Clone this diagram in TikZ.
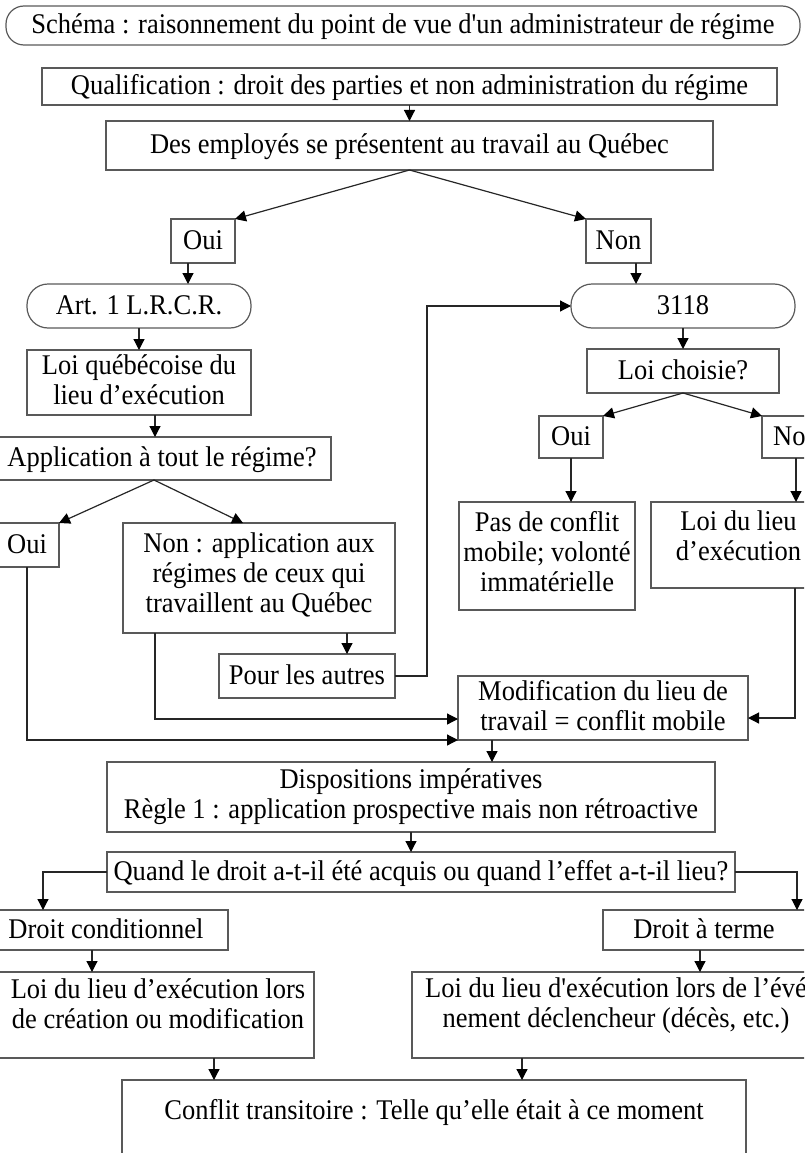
\documentclass[tikz,border=0pt]{standalone}
\usepackage{fontspec}
\newfontfamily\mainf{Liberation Serif}[FakeStretch=0.93]
\usetikzlibrary{arrows.meta}
\definecolor{boxc}{gray}{0.35}
\definecolor{linec}{gray}{0.15}
\newcommand\mystrut{\rule[-5.5pt]{0pt}{28pt}}
\newcommand\tristrut{\rule[-10pt]{0pt}{28pt}}
\begin{document}
\begin{tikzpicture}[x=1pt,y=-1pt,
  base/.style={font=\mainf\fontsize{28.5}{30}\selectfont, align=center, inner sep=0pt, outer sep=0pt,
    execute at begin node=\mystrut, execute at end node=\mystrut},
  tri/.style={execute at begin node=\tristrut, execute at end node=\tristrut},
  box/.style={base, draw=boxc, line width=1.2pt, rectangle},
  txt/.style={base},
  pill/.style={box, rounded corners=21pt},
  conn/.style={draw=linec, line width=1.2pt},
  arr/.style={conn, -{Triangle[length=11pt,width=11pt,color=black]}}]
\useasboundingbox (0,0) rectangle (804,1153);
\clip (0,0) rectangle (804,1153);

% top
\node[box, rounded corners=18pt, minimum width=794pt, minimum height=39pt] (title) at (403,25.5) {Schéma : raisonnement du point de vue d'un administrateur de régime};
\node[box, minimum width=735pt, minimum height=37pt] (qual) at (409.5,86.5) {Qualification : droit des parties et non administration du régime};
\node[box, minimum width=607pt, minimum height=49pt] (emp) at (409.5,145.5) {Des employés se présentent au travail au Québec};

% left branch
\node[box, minimum width=64pt, minimum height=44pt] (ouiA) at (203,241) {Oui};
\node[pill, minimum width=224pt, minimum height=44pt] (art) at (139,306) {Art. 1 L.R.C.R.};
\node[box, minimum width=224pt, minimum height=65pt] (loiq) at (139,382.5) {Loi québécoise du\\lieu d’exécution};
\node[box, minimum width=338pt, minimum height=43pt] (appl) at (162,458.5) {Application à tout le régime?};
\node[box, minimum width=64pt, minimum height=44pt] (ouiC) at (27,545) {Oui};
\node[box, tri, minimum width=272pt, minimum height=110pt] (nonC) at (259,578) {Non : application aux\\régimes de ceux qui\\travaillent au Québec};
\node[box, minimum width=176pt, minimum height=44pt] (autres) at (307,676) {Pour les autres};

% right branch
\node[box, minimum width=65pt, minimum height=44pt] (nonA) at (618.5,241) {Non};
\node[pill, minimum width=224pt, minimum height=44pt] (t3118) at (683,306) {3118};
\node[box, minimum width=192pt, minimum height=44pt] (choisie) at (683,371) {Loi choisie?};
\node[box, minimum width=64pt, minimum height=42pt] (ouiB) at (571,437) {Oui};
\node[box, minimum width=68pt, minimum height=42pt] (nonB) at (796,437) {Non};
\node[box, tri, minimum width=176pt, minimum height=108pt] (pas) at (547,556) {Pas de conflit\\mobile; volonté\\immatérielle};
\node[box, minimum width=175pt, minimum height=86pt] (lieuR) at (738.5,545) {};
\node[txt] (lieuRt) at (738.5,538) {Loi du lieu\\d’exécution};

% middle
\node[box, minimum width=290pt, minimum height=64pt] (modif) at (603,708) {Modification du lieu de\\travail = conflit mobile};
\node[box, minimum width=608pt, minimum height=70pt] (disp) at (411,797) {Dispositions impératives\\Règle 1 : application prospective mais non rétroactive};
\node[box, minimum width=628pt, minimum height=40pt] (quand) at (421,872) {Quand le droit a-t-il été acquis ou quand l’effet a-t-il lieu?};
\node[box, minimum width=244pt, minimum height=40pt] (dcond) at (106,930) {Droit conditionnel};
\node[box, minimum width=222pt, minimum height=40pt] (dterme) at (714,930) {};
\node[txt] (dtermet) at (704,930) {Droit à terme};
\node[box, minimum width=316pt, minimum height=86pt] (loiL) at (156,1015) {};
\node[txt] (loiLt) at (158,1006) {Loi du lieu d’exécution lors\\de création ou modification};
\node[box, minimum width=416pt, minimum height=86pt] (loiR) at (620,1015) {};
\node[txt] (loiRt) at (616,1006) {Loi du lieu d'exécution lors de l’évé\\nement déclencheur (décès, etc.)};
\node[box, minimum width=624pt, minimum height=100pt] (confl) at (434,1130) {};
\node[txt] (conflt) at (434,1111) {Conflit transitoire : Telle qu’elle était à ce moment};

\coordinate (colA) at (427,0);

% connectors
\draw[arr] (qual.south) -- (emp.north);
\draw[arr] (emp.south) -- (ouiA.north east);
\draw[arr] (emp.south) -- (nonA.north west);
\draw[arr] ([xshift=-15pt]ouiA.south) -- ([xshift=49pt]art.north);
\draw[arr] ([xshift=17.5pt]nonA.south) -- ([xshift=-47pt]t3118.north);
\draw[arr] (art.south) -- (loiq.north);
\draw[arr] ([xshift=16pt]loiq.south) -- ([xshift=-7pt]appl.north);
\draw[arr] (t3118.south) -- (choisie.north);
\draw[arr] ([xshift=-8pt]appl.south) -- (ouiC.north east);
\draw[arr] ([xshift=-8pt]appl.south) -- ([xshift=-16pt]nonC.north);
\draw[arr] (choisie.south) -- (ouiB.north east);
\draw[arr] (choisie.south) -- (nonB.north west);
\draw[arr] (ouiB.south) -- ([xshift=24pt]pas.north);
\draw[arr] (nonB.south) -- ([xshift=57.5pt]lieuR.north);
\draw[arr] ([xshift=88pt]nonC.south) -- ([xshift=40pt]autres.north);
\draw[arr] (autres.east) -- (autres.east -| colA) |- (t3118.west);
\draw[arr] ([xshift=-104pt]nonC.south) |- ([yshift=-11pt]modif.west);
\draw[arr] (ouiC.south) |- (modif.south west);
\draw[arr] ([xshift=56.5pt]lieuR.south) |- ([yshift=-10pt]modif.east);
\draw[arr] ([xshift=-111pt]modif.south) -- ([xshift=81pt]disp.north);
\draw[arr] (disp.south) -- ([xshift=-10pt]quand.north);
\draw[arr] (quand.west) -| ([xshift=-63pt]dcond.north);
\draw[arr] (quand.east) -| ([xshift=83pt]dterme.north);
\draw[arr] ([xshift=-14pt]dcond.south) -- ([xshift=-64pt]loiL.north);
\draw[arr] ([xshift=-14pt]dterme.south) -- ([xshift=80pt]loiR.north);
\draw[arr] ([xshift=58pt]loiL.south) -- ([xshift=-220pt]confl.north);
\draw[arr] ([xshift=-98pt]loiR.south) -- ([xshift=88pt]confl.north);
\end{tikzpicture}
\end{document}
